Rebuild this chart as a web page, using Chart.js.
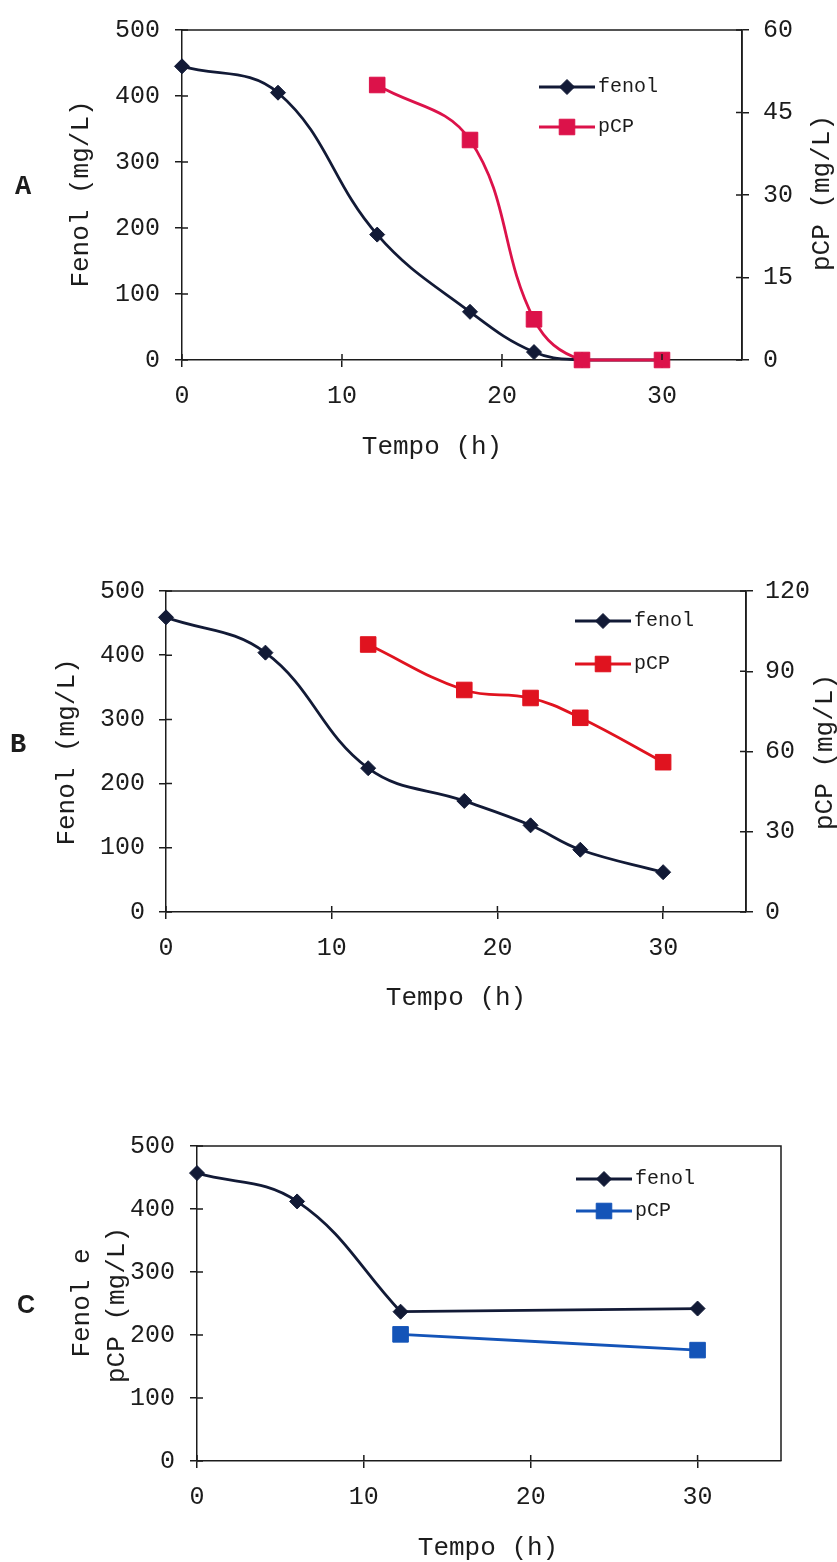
<!DOCTYPE html>
<html>
<head>
<meta charset="utf-8">
<script src="https://cdn.jsdelivr.net/npm/chart.js@4"></script>
<style>
  body { margin: 0; background: #fff; width: 837px; height: 1562px; position: relative; overflow: hidden; }
  canvas { position: absolute; left: 0; }
</style>
</head>
<body>
<canvas id="chartA" width="837" height="500" style="top:0px"></canvas>
<canvas id="chartB" width="837" height="500" style="top:560px"></canvas>
<canvas id="chartC" width="837" height="452" style="top:1110px"></canvas>
<script>
// Panel A
const timesA = [0, 6, 12.2, 18, 22, 25, 30];
const fenolA = [445, 405, 190, 73, 12, 0, 0];
const pcpTimesA = [12.2, 18, 22, 25, 30];
const pcpA = [50, 40, 7.4, 0, 0];

// Panel B
const timesB = [0, 6, 12.2, 18, 22, 25, 30];
const fenolB = [459, 404, 224, 173, 135, 97, 62];
const pcpTimesB = [12.2, 18, 22, 25, 30];
const pcpB = [100, 83, 80, 72.6, 56];

// Panel C
const timesC = [0, 6, 12.2, 30];
const fenolC = [457, 412, 237, 242];
const pcpTimesC = [12.2, 30];
const pcpC = [201, 176];

// Axis ranges / tick steps
const xRange = [0, 35, 10];
const fenolRange = [0, 500, 100];
const pcpRangeA = [0, 60, 15];
const pcpRangeB = [0, 120, 30];

const MONO = '"Liberation Mono", "Courier New", monospace';
const INK = '#1c1c1c';
const FENOL = '#121a36';

const toPoints = (xs, ys) => xs.map((x, i) => ({ x, y: ys[i] }));

// Draw the frame, inner tick marks, axis titles and the legend
const decorations = {
  id: 'decorations',
  afterDraw(chart, args, opts) {
    const { ctx, chartArea: a, scales } = chart;
    ctx.save();
    ctx.strokeStyle = INK;
    ctx.lineWidth = 1.5;
    ctx.beginPath();
    ctx.moveTo(a.left, a.top);
    ctx.lineTo(a.right, a.top);
    ctx.lineTo(a.right, a.bottom);
    ctx.stroke();

    ctx.beginPath();
    scales.x.ticks.forEach((t) => {
      const px = scales.x.getPixelForValue(t.value);
      ctx.moveTo(px, a.bottom);
      ctx.lineTo(px, a.bottom - 6);
    });
    scales.y.ticks.forEach((t) => {
      const py = scales.y.getPixelForValue(t.value);
      ctx.moveTo(a.left, py);
      ctx.lineTo(a.left + 6, py);
    });
    if (scales.y2) {
      scales.y2.ticks.forEach((t) => {
        const py = scales.y2.getPixelForValue(t.value);
        ctx.moveTo(a.right, py);
        ctx.lineTo(a.right - 6, py);
      });
    }
    ctx.stroke();

    // texts
    ctx.fillStyle = INK;
    ctx.textAlign = 'center';
    ctx.textBaseline = 'middle';
    opts.texts.forEach((t) => {
      ctx.save();
      ctx.translate(t.x, t.y);
      if (t.rot) ctx.rotate(-Math.PI / 2);
      ctx.font = t.font;
      ctx.fillText(t.text, 0, 0);
      ctx.restore();
    });

    // legend
    const lg = opts.legend;
    chart.data.datasets.filter((ds) => !ds.noLegend).forEach((ds, i) => {
      const y = lg.rows[i];
      ctx.strokeStyle = ds.borderColor;
      ctx.lineWidth = 2.8;
      ctx.beginPath();
      ctx.moveTo(lg.x, y);
      ctx.lineTo(lg.x + 56, y);
      ctx.stroke();
      ctx.fillStyle = ds.backgroundColor;
      ctx.strokeStyle = ds.backgroundColor;
      ctx.lineWidth = 1;
      Chart.helpers.drawPoint(ctx, {
        pointStyle: ds.pointStyle,
        radius: ds.legendRadius,
        rotation: 0,
        borderWidth: 1,
      }, lg.x + 28, y);
      ctx.fillStyle = INK;
      ctx.textAlign = 'left';
      ctx.font = '20px ' + MONO;
      ctx.fillText(ds.label, lg.x + 59, y);
    });
    ctx.restore();
  },
};

const tickFont = { family: MONO, size: 25 };

const makeAxis = (range, position, width, pad) => ({
  type: 'linear',
  position,
  min: range[0],
  max: range[1],
  ticks: { stepSize: range[2], font: tickFont, color: INK, padding: pad },
  grid: { drawOnChartArea: false, tickLength: 7, color: INK, lineWidth: 1.5 },
  border: { color: INK, width: 1.5 },
  afterFit: (s) => { s.width = width; },
});

const makeChart = (id, datasets, cfg) => {
  const scales = {
    x: {
      type: 'linear',
      min: xRange[0],
      max: xRange[1],
      ticks: { stepSize: xRange[2], includeBounds: false, font: tickFont, color: INK, padding: 14 },
      grid: { drawOnChartArea: false, tickLength: 7, color: INK, lineWidth: 1.5 },
      border: { color: INK, width: 1.5 },
      afterFit: (s) => { s.height = cfg.xHeight; },
    },
    y: makeAxis(fenolRange, 'left', cfg.leftWidth, cfg.leftPad),
  };
  if (cfg.pcpRange) scales.y2 = makeAxis(cfg.pcpRange, 'right', cfg.rightWidth, cfg.rightPad);

  return new Chart(document.getElementById(id), {
    type: 'line',
    data: { datasets },
    options: {
      responsive: false,
      animation: false,
      devicePixelRatio: 1,
      layout: { padding: { top: cfg.top, right: cfg.rightPadding || 0, left: 0, bottom: 0 } },
      scales,
      plugins: {
        legend: { display: false },
        tooltip: { enabled: false },
        decorations: { texts: cfg.texts, legend: cfg.legend },
      },
    },
    plugins: [decorations],
  });
};

const series = (label, data, color, style, radius, axis, order) => ({
  label,
  data,
  yAxisID: axis,
  order,
  clip: false,
  borderColor: color,
  backgroundColor: color,
  pointStyle: style,
  pointRadius: radius,
  legendRadius: radius,
  pointHoverRadius: radius,
  pointBorderWidth: 1,
  borderWidth: 2.8,
  tension: 0.4,
});

const titleFont = '26px ' + MONO;

makeChart('chartA', [
  series('fenol', toPoints(timesA, fenolA), FENOL, 'rectRot', 7.5, 'y', 1),
  series('pCP', toPoints(pcpTimesA, pcpA), '#dc124a', 'rect', 11, 'y2', 0),
], {
  top: 28, xHeight: 140, leftWidth: 182, rightWidth: 95, leftPad: 15, rightPad: 14,
  pcpRange: pcpRangeA,
  legend: { x: 539, rows: [87, 127] },
  texts: [
    { text: 'A', x: 23, y: 187, font: 'bold 27px ' + MONO },
    { text: 'Fenol (mg/L)', x: 81, y: 194, rot: true, font: titleFont },
    { text: 'pCP (mg/L)', x: 822, y: 193, rot: true, font: titleFont },
    { text: 'Tempo (h)', x: 432, y: 447, font: titleFont },
  ],
});

makeChart('chartB', [
  series('fenol', toPoints(timesB, fenolB), FENOL, 'rectRot', 7.5, 'y', 1),
  series('pCP', toPoints(pcpTimesB, pcpB), '#e0131f', 'rect', 11, 'y2', 0),
], {
  top: 31, xHeight: 148, leftWidth: 166, rightWidth: 91, leftPad: 14, rightPad: 12,
  pcpRange: pcpRangeB,
  legend: { x: 575, rows: [61, 104] },
  texts: [
    { text: 'B', x: 18, y: 185, font: 'bold 27px ' + MONO },
    { text: 'Fenol (mg/L)', x: 67, y: 192, rot: true, font: titleFont },
    { text: 'pCP (mg/L)', x: 825, y: 192, rot: true, font: titleFont },
    { text: 'Tempo (h)', x: 456, y: 438, font: titleFont },
  ],
});

// In C the fenol curve is smoothed up to 12 h and straight afterwards
const fenolCurveC = series('fenol', toPoints(timesC.slice(0, 3), fenolC.slice(0, 3)), FENOL, 'rectRot', 7.5, 'y', 1);
const fenolTailC = {
  ...series('fenol', toPoints(timesC.slice(2), fenolC.slice(2)), FENOL, 'rectRot', 7.5, 'y', 1),
  tension: 0,
  noLegend: true,
  pointRadius: (c) => (c.dataIndex === 0 ? 0 : 7.5),
};

makeChart('chartC', [
  fenolCurveC,
  series('pCP', toPoints(pcpTimesC, pcpC), '#1454b8', 'rect', 11, 'y', 0),
  fenolTailC,
], {
  top: 36, xHeight: 101, leftWidth: 197, rightPadding: 56, leftPad: 15,
  legend: { x: 576, rows: [69, 101] },
  texts: [
    { text: 'C', x: 26, y: 196, font: 'bold 25px "Liberation Sans", Arial, sans-serif' },
    { text: 'Fenol e', x: 82, y: 193, rot: true, font: titleFont },
    { text: 'pCP (mg/L)', x: 117, y: 195, rot: true, font: titleFont },
    { text: 'Tempo (h)', x: 488, y: 438, font: titleFont },
  ],
});
</script>
</body>
</html>
